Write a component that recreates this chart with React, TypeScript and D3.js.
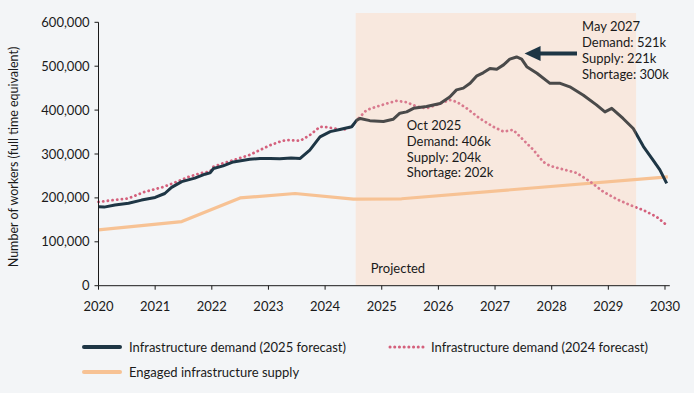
import React from "react";
import * as d3 from "d3";

// Decimal years and thousands of workers
const demand2025Years = [2020.0, 2020.1, 2020.29, 2020.53, 2020.76, 2021.0, 2021.17, 2021.29, 2021.47, 2021.7, 2021.88, 2021.97, 2022.03, 2022.2, 2022.38, 2022.67, 2022.85, 2023.03, 2023.2, 2023.4, 2023.56, 2023.73, 2023.91, 2024.09, 2024.26, 2024.47, 2024.56, 2024.62, 2024.79, 2025.03, 2025.2, 2025.32, 2025.44, 2025.56, 2025.79, 2026.03, 2026.2, 2026.32, 2026.44, 2026.56, 2026.68, 2026.79, 2026.91, 2027.03, 2027.15, 2027.26, 2027.38, 2027.47, 2027.56, 2027.74, 2027.97, 2028.15, 2028.32, 2028.56, 2028.79, 2028.94, 2029.06, 2029.26, 2029.44, 2029.62, 2029.79, 2029.91, 2030.03];
const demand2025Values = [180, 179, 184, 188, 195, 201, 210, 224, 237, 245, 254, 257, 267, 273, 282, 288, 290, 290, 289, 291, 290, 309, 339, 351, 356, 362, 377, 381, 376, 374, 379, 393, 396, 404, 408, 415, 430, 446, 450, 461, 478, 485, 495, 493, 503, 516, 521, 516, 499, 484, 461, 461, 453, 434, 412, 396, 404, 381, 358, 317, 286, 264, 233];

const demand2024Years = [2020.0, 2020.53, 2020.82, 2021.12, 2021.35, 2021.59, 2021.82, 2021.97, 2022.03, 2022.2, 2022.38, 2022.67, 2022.85, 2023.03, 2023.2, 2023.32, 2023.56, 2023.73, 2023.91, 2024.03, 2024.17, 2024.32, 2024.47, 2024.56, 2024.62, 2024.73, 2024.91, 2025.09, 2025.26, 2025.44, 2025.62, 2025.79, 2025.97, 2026.2, 2026.32, 2026.5, 2026.73, 2026.97, 2027.15, 2027.32, 2027.5, 2027.68, 2027.85, 2027.97, 2028.2, 2028.44, 2028.68, 2028.91, 2029.15, 2029.38, 2029.62, 2029.85, 2030.03];
const demand2024Values = [191, 199, 214, 224, 235, 248, 257, 260, 271, 279, 286, 298, 309, 320, 328, 332, 330, 343, 362, 361, 358, 355, 362, 377, 385, 400, 408, 415, 421, 418, 408, 404, 412, 423, 419, 404, 381, 362, 351, 355, 332, 309, 282, 273, 265, 257, 237, 214, 197, 184, 172, 157, 138];

const supplyYears = [2020.0, 2021.47, 2022.5, 2023.47, 2024.5, 2025.35, 2030.05];
const supplyValues = [127, 146, 200, 210, 197, 198, 248];

const xTickYears = [2020, 2021, 2022, 2023, 2024, 2025, 2026, 2027, 2028, 2029, 2030];
const yTickValues = [0, 100000, 200000, 300000, 400000, 500000, 600000];

const projectedRange = [2024.54, 2029.49];
const annotationOct2025 = ["Oct 2025", "Demand: 406k", "Supply: 204k", "Shortage: 202k"];
const annotationMay2027 = ["May 2027", "Demand: 521k", "Supply: 221k", "Shortage: 300k"];
const legendLabels = ["Infrastructure demand (2025 forecast)", "Infrastructure demand (2024 forecast)", "Engaged infrastructure supply"];

const W = 694, H = 393;
const FONT = "Lato, 'Open Sans', sans-serif";
const NAVY = "#1e3645";
const GRAY = "#4a4a4a";
const PINK = "#d4607c";
const ORANGE = "#f7c294";
const SHADE = "#f8e8de";
const BG = "#f3f5f7";
const TEXT = "#1a1a1a";

export default function App() {
  const x = d3.scaleLinear().domain([2020, 2030.085]).range([98.5, 669.8]);
  const y = d3.scaleLinear().domain([0, 600000]).range([285.7, 22.3]);

  const toPts = (xs: number[], vs: number[]) => xs.map((yr, i) => [yr, vs[i] * 1000] as [number, number]);
  const line = d3.line<[number, number]>().x(d => x(d[0])).y(d => y(d[1]));

  const d2025 = line(toPts(demand2025Years, demand2025Values)) || "";
  const d2024 = line(toPts(demand2024Years, demand2024Values)) || "";
  const dSup = line(toPts(supplyYears, supplyValues)) || "";

  const x0 = x.range()[0];
  const x1 = x.range()[1];
  const sx0 = x(projectedRange[0]);
  const sx1 = x(projectedRange[1]);
  const f0 = (sx0 - x0) / (x1 - x0);
  const f1 = (sx1 - x0) / (x1 - x0);

  const yTop = y(600000);
  const yBot = y(0);

  // Arrow pointing to May 2027 peak
  const peakX = x(2027.38);
  const peakY = y(521000);
  const tipX = peakX + 8;
  const tipY = peakY - 3.5;

  return (
    <svg width={W} height={H} style={{ position: "absolute", left: 0, top: 0, fontFamily: FONT }}>
      <defs>
        <linearGradient id="g2025" gradientUnits="userSpaceOnUse" x1={x0} x2={x1} y1={0} y2={0}>
          <stop offset={0} stopColor={NAVY} />
          <stop offset={f0} stopColor={NAVY} />
          <stop offset={f0} stopColor={GRAY} />
          <stop offset={f1} stopColor={GRAY} />
          <stop offset={f1} stopColor={NAVY} />
          <stop offset={1} stopColor={NAVY} />
        </linearGradient>
        <linearGradient id="g2024" gradientUnits="userSpaceOnUse" x1={x0} x2={x1} y1={0} y2={0}>
          <stop offset={0} stopColor={PINK} />
          <stop offset={f0} stopColor={PINK} />
          <stop offset={f0} stopColor="#d97a8e" />
          <stop offset={f1} stopColor="#d97a8e" />
          <stop offset={f1} stopColor={PINK} />
          <stop offset={1} stopColor={PINK} />
        </linearGradient>
      </defs>
      <rect x={0} y={0} width={W} height={H} fill={BG} />
      <rect x={sx0} y={13} width={sx1 - sx0} height={yBot - 13} fill={SHADE} />

      {/* lines */}
      <path d={dSup} fill="none" stroke={ORANGE} strokeWidth={3.2} strokeLinejoin="round" />
      <path d={d2024} fill="none" stroke="url(#g2024)" strokeWidth={2.8} strokeLinecap="round" strokeDasharray="0.1 4.6" />
      <path d={d2025} fill="none" stroke="url(#g2025)" strokeWidth={3} strokeLinejoin="round" />

      {/* y axis */}
      <line x1={x0} x2={x0} y1={yTop} y2={yBot} stroke={TEXT} strokeWidth={1} />
      {yTickValues.map(v => (
        <g key={v}>
          <line x1={x0 - 4} x2={x0} y1={y(v)} y2={y(v)} stroke={TEXT} strokeWidth={1} />
          <text x={x0 - 9} y={y(v)} dy="0.35em" textAnchor="end" fontSize={13} fill={TEXT}>
            {d3.format(",")(v)}
          </text>
        </g>
      ))}
      {/* x axis */}
      <line x1={x0} x2={x1} y1={yBot} y2={yBot} stroke={TEXT} strokeWidth={1} />
      {xTickYears.map(t => (
        <g key={t}>
          <line x1={x(t)} x2={x(t)} y1={yBot} y2={yBot + 4} stroke={TEXT} strokeWidth={1} />
          <text x={x(t)} y={yBot + 25} textAnchor="middle" fontSize={13} fill={TEXT}>{t}</text>
        </g>
      ))}

      <text transform={`translate(18,${(yTop + yBot) / 2 + 3}) rotate(-90)`} textAnchor="middle" fontSize={12.5} fill={TEXT}>
        Number of workers (full time equivalent)
      </text>

      <text x={sx0 + 15} y={272.7} fontSize={13} fill={TEXT}>Projected</text>

      {/* annotations */}
      {annotationOct2025.map((t, i) => (
        <text key={t} x={x(2025.75) - 17.5} y={130 + i * 15.8} fontSize={13} fill={TEXT}>{t}</text>
      ))}
      {annotationMay2027.map((t, i) => (
        <text key={t} x={582} y={31 + i * 16} fontSize={13} fill={TEXT}>{t}</text>
      ))}
      <line x1={tipX + 14} x2={577} y1={tipY} y2={tipY} stroke={NAVY} strokeWidth={4} />
      <path d={`M${tipX},${tipY} L${tipX + 16},${tipY - 7.5} L${tipX + 16},${tipY + 7.5} Z`} fill={NAVY} />

      {/* legend */}
      <line x1={84} x2={120} y1={347} y2={347} stroke={NAVY} strokeWidth={4} strokeLinecap="round" />
      <text x={129} y={347} dy="0.35em" fontSize={13} fill={TEXT}>{legendLabels[0]}</text>
      <line x1={390} x2={423} y1={347} y2={347} stroke={PINK} strokeWidth={3} strokeLinecap="round" strokeDasharray="0.1 4.6" />
      <text x={431} y={347} dy="0.35em" fontSize={13} fill={TEXT}>{legendLabels[1]}</text>
      <line x1={84} x2={120} y1={372} y2={372} stroke={ORANGE} strokeWidth={4} strokeLinecap="round" />
      <text x={129} y={372} dy="0.35em" fontSize={13} fill={TEXT}>{legendLabels[2]}</text>
    </svg>
  );
}
